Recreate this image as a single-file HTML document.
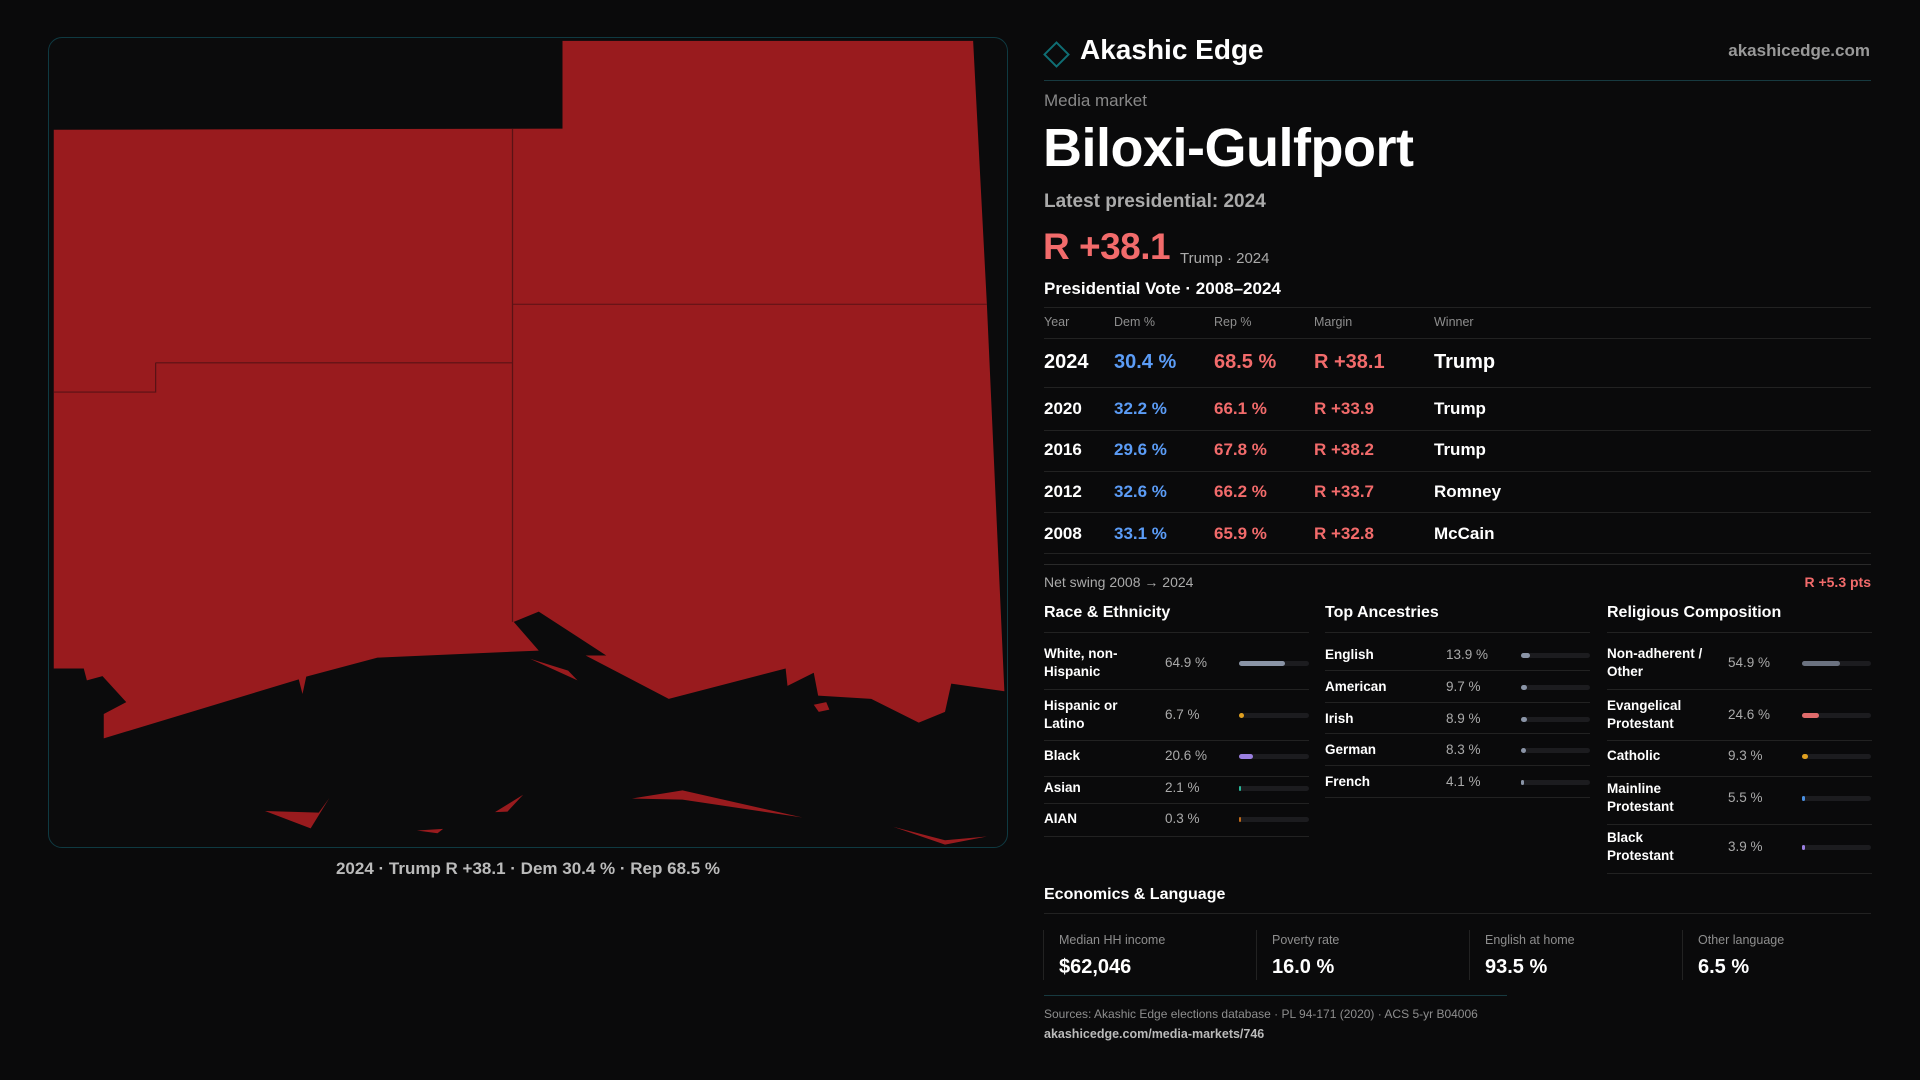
<!DOCTYPE html>
<html><head><meta charset="utf-8"><style>
*{margin:0;padding:0;box-sizing:border-box}
body{width:1920px;height:1080px;background:#0a0a0b;font-family:"Liberation Sans",sans-serif;color:#fff;position:relative;overflow:hidden}
.a{position:absolute;white-space:nowrap;line-height:1}
.g{color:#8e8e8e}
.r{color:#f26b6b}.b{color:#5b9cf6}
.ln{position:absolute;height:1px;background:#222}
.row{font-size:17px;font-weight:bold}
.lab{font-size:13.5px;font-weight:bold;line-height:18px;white-space:normal}
.val{font-size:13.5px;color:#aaa}
.trk{position:absolute;height:5px;border-radius:3px;background:#1c1c1f}
.trk i{position:absolute;left:0;top:0;height:5px;border-radius:3px;display:block}
</style></head><body>
<div style="position:absolute;left:48px;top:37px;width:960px;height:811px;border:1px solid #0f3a42;border-radius:14px;background:#0b0b0c;overflow:hidden">
<svg width="960" height="811" viewBox="0 0 960 811" style="position:absolute;left:-1px;top:-1px">
<g transform="translate(-8,-7) scale(0.625,0.542)" fill="#991b1e">
<path d="M22,184 L836,182 L836,20 L1493,20 L1515,506 L1543,1220 L1458,1206 L1448,1258 L1406,1278 L1330,1234 L1245,1228 L1238,1186 L1196,1210 L1193,1178 L1006,1234 L873,1154 L906,1154 L798,1073 L758,1092 L798,1145 L540,1158 L426,1193 L420,1225 L414,1198 L102,1307 L102,1262 L138,1240 L100,1192 L75,1200 L70,1178 L22,1178 Z"/>
<path d="M784,1160 L845,1182 L860,1200 Z"/>
<path d="M1238,1245 L1258,1240 L1263,1254 L1246,1258 Z"/>
<path d="M360,1441 L446,1444 L463,1417 L433,1473 Z"/>
<path d="M728,1443 L773,1411 L748,1442 Z"/>
<path d="M947,1418 L1028,1403 L1220,1453 L1028,1420 Z"/>
<path d="M1365,1470 L1448,1495 L1515,1488 L1448,1503 Z"/>
<path d="M603,1477 L645,1474 L636,1482 Z"/>
<g stroke="#5a1215" stroke-width="2" fill="none">
<path d="M756,182 L756,1092 M756,506 L1515,506 M185,614 L756,614 M185,614 L185,668 L22,668"/>
</g></g></svg></div>
<div class="a" style="left:0;width:1056px;text-align:center;top:860px;font-size:17px;color:#bbb;font-weight:bold">2024 · Trump R +38.1 · Dem 30.4 % · Rep 68.5 %</div>

<div style="position:absolute;left:1047px;top:45px;width:19px;height:19px;border:2px solid #0f6e74;transform:rotate(45deg)"></div>
<div class="a" style="left:1080px;top:36px;font-size:28px;font-weight:bold">Akashic Edge</div>
<div class="a g" style="right:50px;top:42px;font-size:17px;font-weight:bold;color:#999">akashicedge.com</div>
<div class="ln" style="left:1044px;width:827px;top:80px;background:#173a40"></div>
<div class="a g" style="left:1044px;top:92px;font-size:17px;color:#888">Media market</div>
<div class="a" style="left:1043px;top:121px;font-size:54px;font-weight:bold;letter-spacing:-0.5px">Biloxi-Gulfport</div>
<div class="a" style="left:1044px;top:192px;font-size:19px;font-weight:bold;color:#aaa">Latest presidential: 2024</div>
<div class="a r" style="left:1043px;top:228px;font-size:37px;font-weight:bold;letter-spacing:-0.5px">R +38.1</div>
<div class="a" style="left:1180px;top:251px;font-size:15px;color:#aaa">Trump · 2024</div>
<div class="a" style="left:1044px;top:280px;font-size:17px;font-weight:bold">Presidential Vote · 2008–2024</div>
<div class="ln" style="left:1044px;width:827px;top:307px"></div>
<div class="a g" style="left:1044px;top:316px;font-size:12.5px">Year</div>
<div class="a g" style="left:1114px;top:316px;font-size:12.5px">Dem %</div>
<div class="a g" style="left:1214px;top:316px;font-size:12.5px">Rep %</div>
<div class="a g" style="left:1314px;top:316px;font-size:12.5px">Margin</div>
<div class="a g" style="left:1434px;top:316px;font-size:12.5px">Winner</div>
<div class="ln" style="left:1044px;width:827px;top:338px"></div>
<div class="a row" style="left:1044px;top:352px;font-size:20px">2024</div><div class="a row b" style="left:1114px;top:352px;font-size:20px">30.4 %</div><div class="a row r" style="left:1214px;top:352px;font-size:20px">68.5 %</div><div class="a row r" style="left:1314px;top:352px;font-size:20px">R +38.1</div><div class="a row" style="left:1434px;top:352px;font-size:20px">Trump</div>
<div class="ln" style="left:1044px;width:827px;top:387px"></div>
<div class="a row" style="left:1044px;top:400px">2020</div><div class="a row b" style="left:1114px;top:400px">32.2 %</div><div class="a row r" style="left:1214px;top:400px">66.1 %</div><div class="a row r" style="left:1314px;top:400px">R +33.9</div><div class="a row" style="left:1434px;top:400px">Trump</div>
<div class="ln" style="left:1044px;width:827px;top:430px"></div>
<div class="a row" style="left:1044px;top:441px">2016</div><div class="a row b" style="left:1114px;top:441px">29.6 %</div><div class="a row r" style="left:1214px;top:441px">67.8 %</div><div class="a row r" style="left:1314px;top:441px">R +38.2</div><div class="a row" style="left:1434px;top:441px">Trump</div>
<div class="ln" style="left:1044px;width:827px;top:471px"></div>
<div class="a row" style="left:1044px;top:483px">2012</div><div class="a row b" style="left:1114px;top:483px">32.6 %</div><div class="a row r" style="left:1214px;top:483px">66.2 %</div><div class="a row r" style="left:1314px;top:483px">R +33.7</div><div class="a row" style="left:1434px;top:483px">Romney</div>
<div class="ln" style="left:1044px;width:827px;top:512px"></div>
<div class="a row" style="left:1044px;top:525px">2008</div><div class="a row b" style="left:1114px;top:525px">33.1 %</div><div class="a row r" style="left:1214px;top:525px">65.9 %</div><div class="a row r" style="left:1314px;top:525px">R +32.8</div><div class="a row" style="left:1434px;top:525px">McCain</div>
<div class="ln" style="left:1044px;width:827px;top:553px"></div>
<div class="ln" style="left:1044px;width:827px;top:564px;background:#2a2a2a"></div>
<div class="a" style="left:1044px;top:575px;font-size:14px;color:#aaa">Net swing 2008 → 2024</div>
<div class="a r" style="right:49px;top:575px;font-size:14px;font-weight:bold">R +5.3 pts</div>

<div class="a" style="left:1044px;top:605px;font-size:16px;font-weight:bold">Race &amp; Ethnicity</div>
<div class="a" style="left:1325px;top:605px;font-size:16px;font-weight:bold">Top Ancestries</div>
<div class="a" style="left:1607px;top:605px;font-size:16px;font-weight:bold">Religious Composition</div>
<div class="ln" style="left:1044px;width:265px;top:632px"></div>
<div class="ln" style="left:1325px;width:265px;top:632px"></div>
<div class="ln" style="left:1607px;width:265px;top:632px"></div>

<div class="a lab" style="left:1044px;top:645px;width:110px">White, non-Hispanic</div><div class="a val" style="left:1165px;top:656px">64.9 %</div><div class="trk" style="left:1239px;width:70px;top:661px"><i style="width:46px;background:#8a94a6"></i></div>
<div class="ln" style="left:1044px;width:265px;top:689px"></div>
<div class="a lab" style="left:1044px;top:697px;width:110px">Hispanic or Latino</div><div class="a val" style="left:1165px;top:708px">6.7 %</div><div class="trk" style="left:1239px;width:70px;top:713px"><i style="width:5px;background:#e0a020"></i></div>
<div class="ln" style="left:1044px;width:265px;top:740px"></div>
<div class="a lab" style="left:1044px;top:747px">Black</div><div class="a val" style="left:1165px;top:749px">20.6 %</div><div class="trk" style="left:1239px;width:70px;top:754px"><i style="width:14px;background:#9a7fe0"></i></div>
<div class="ln" style="left:1044px;width:265px;top:776px"></div>
<div class="a lab" style="left:1044px;top:779px">Asian</div><div class="a val" style="left:1165px;top:781px">2.1 %</div><div class="trk" style="left:1239px;width:70px;top:786px"><i style="width:2px;background:#2ab89a"></i></div>
<div class="ln" style="left:1044px;width:265px;top:803px"></div>
<div class="a lab" style="left:1044px;top:810px">AIAN</div><div class="a val" style="left:1165px;top:812px">0.3 %</div><div class="trk" style="left:1239px;width:70px;top:817px"><i style="width:2px;background:#c06a1a"></i></div>
<div class="ln" style="left:1044px;width:265px;top:836px"></div>

<div class="a lab" style="left:1325px;top:646px">English</div><div class="a val" style="left:1446px;top:648px">13.9 %</div><div class="trk" style="left:1521px;width:69px;top:653px"><i style="width:9px;background:#8a94a6"></i></div>
<div class="ln" style="left:1325px;width:265px;top:670px"></div>
<div class="a lab" style="left:1325px;top:678px">American</div><div class="a val" style="left:1446px;top:680px">9.7 %</div><div class="trk" style="left:1521px;width:69px;top:685px"><i style="width:6px;background:#8a94a6"></i></div>
<div class="ln" style="left:1325px;width:265px;top:702px"></div>
<div class="a lab" style="left:1325px;top:710px">Irish</div><div class="a val" style="left:1446px;top:712px">8.9 %</div><div class="trk" style="left:1521px;width:69px;top:717px"><i style="width:6px;background:#8a94a6"></i></div>
<div class="ln" style="left:1325px;width:265px;top:733px"></div>
<div class="a lab" style="left:1325px;top:741px">German</div><div class="a val" style="left:1446px;top:743px">8.3 %</div><div class="trk" style="left:1521px;width:69px;top:748px"><i style="width:5px;background:#8a94a6"></i></div>
<div class="ln" style="left:1325px;width:265px;top:765px"></div>
<div class="a lab" style="left:1325px;top:773px">French</div><div class="a val" style="left:1446px;top:775px">4.1 %</div><div class="trk" style="left:1521px;width:69px;top:780px"><i style="width:3px;background:#8a94a6"></i></div>
<div class="ln" style="left:1325px;width:265px;top:797px"></div>

<div class="a lab" style="left:1607px;top:645px;width:115px">Non-adherent / Other</div><div class="a val" style="left:1728px;top:656px">54.9 %</div><div class="trk" style="left:1802px;width:69px;top:661px"><i style="width:38px;background:#6b7280"></i></div>
<div class="ln" style="left:1607px;width:265px;top:689px"></div>
<div class="a lab" style="left:1607px;top:697px;width:115px">Evangelical Protestant</div><div class="a val" style="left:1728px;top:708px">24.6 %</div><div class="trk" style="left:1802px;width:69px;top:713px"><i style="width:17px;background:#e06b6b"></i></div>
<div class="ln" style="left:1607px;width:265px;top:740px"></div>
<div class="a lab" style="left:1607px;top:747px">Catholic</div><div class="a val" style="left:1728px;top:749px">9.3 %</div><div class="trk" style="left:1802px;width:69px;top:754px"><i style="width:6px;background:#e0a020"></i></div>
<div class="ln" style="left:1607px;width:265px;top:776px"></div>
<div class="a lab" style="left:1607px;top:780px;width:100px">Mainline Protestant</div><div class="a val" style="left:1728px;top:791px">5.5 %</div><div class="trk" style="left:1802px;width:69px;top:796px"><i style="width:3px;background:#4a8fe0"></i></div>
<div class="ln" style="left:1607px;width:265px;top:824px"></div>
<div class="a lab" style="left:1607px;top:829px;width:90px">Black Protestant</div><div class="a val" style="left:1728px;top:840px">3.9 %</div><div class="trk" style="left:1802px;width:69px;top:845px"><i style="width:3px;background:#9a7fe0"></i></div>
<div class="ln" style="left:1607px;width:265px;top:873px"></div>

<div class="a" style="left:1044px;top:887px;font-size:16px;font-weight:bold">Economics &amp; Language</div>
<div class="ln" style="left:1044px;width:827px;top:913px"></div>
<div style="position:absolute;left:1043px;top:930px;width:1px;height:50px;background:#222"></div>
<div style="position:absolute;left:1256px;top:930px;width:1px;height:50px;background:#222"></div>
<div style="position:absolute;left:1469px;top:930px;width:1px;height:50px;background:#222"></div>
<div style="position:absolute;left:1682px;top:930px;width:1px;height:50px;background:#222"></div>
<div class="a g" style="left:1059px;top:934px;font-size:12.5px">Median HH income</div><div class="a" style="left:1059px;top:957px;font-size:20px;font-weight:bold">$62,046</div>
<div class="a g" style="left:1272px;top:934px;font-size:12.5px">Poverty rate</div><div class="a" style="left:1272px;top:957px;font-size:20px;font-weight:bold">16.0 %</div>
<div class="a g" style="left:1485px;top:934px;font-size:12.5px">English at home</div><div class="a" style="left:1485px;top:957px;font-size:20px;font-weight:bold">93.5 %</div>
<div class="a g" style="left:1698px;top:934px;font-size:12.5px">Other language</div><div class="a" style="left:1698px;top:957px;font-size:20px;font-weight:bold">6.5 %</div>
<div class="ln" style="left:1044px;width:463px;top:995px;background:#173a40"></div>
<div class="a g" style="left:1044px;top:1008px;font-size:12px">Sources: Akashic Edge elections database · PL 94-171 (2020) · ACS 5-yr B04006</div>
<div class="a" style="left:1044px;top:1028px;font-size:12.5px;font-weight:bold;color:#bbb">akashicedge.com/media-markets/746</div>
</body></html>
